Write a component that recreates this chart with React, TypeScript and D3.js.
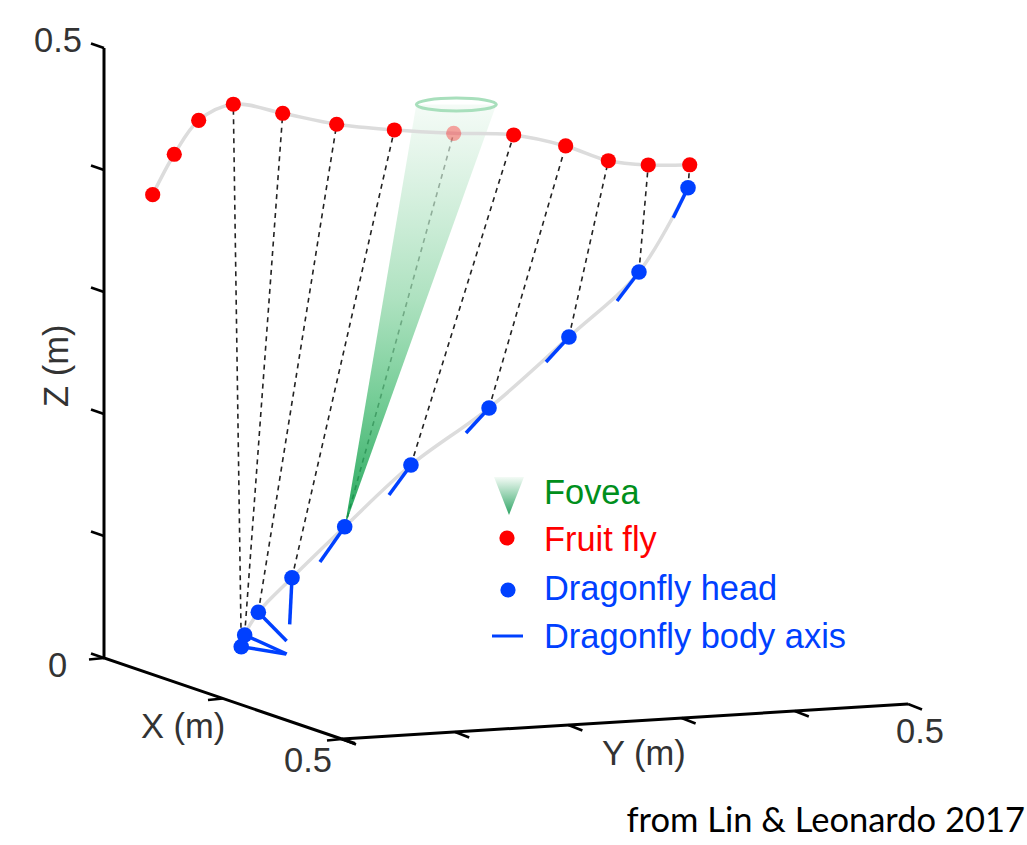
import React from "react";
import * as d3 from "d3";

// trajectories, in metres as projected on the plot plane (across, up)
const flyAcross = [0.0399, 0.0576, 0.0776, 0.106, 0.1465, 0.1907, 0.238, 0.2866, 0.3358, 0.3784, 0.4134, 0.4461, 0.4801];
const flyUp = [0.3798, 0.4129, 0.4407, 0.4539, 0.4465, 0.4375, 0.4328, 0.4301, 0.4287, 0.4197, 0.4076, 0.4041, 0.4043];
const headAcross = [0.1125, 0.1153, 0.1265, 0.1541, 0.1973, 0.2516, 0.3156, 0.3811, 0.4385, 0.4787];
const headUp = [0.0093, 0.0189, 0.0375, 0.0658, 0.1076, 0.1582, 0.2049, 0.2631, 0.3164, 0.3855];
const tailAcross = [0.1492, 0.1498, 0.1497, 0.1522, 0.177, 0.2336, 0.2967, 0.3623, 0.4205, 0.4666];
const tailUp = [0.0033, 0.0033, 0.0139, 0.0276, 0.0787, 0.1336, 0.1844, 0.2426, 0.2926, 0.3609];

// the first 3 fly samples have no sight line
const flyOffset = 3;
const foveaHead = 4;
const foveaFly = 7;
const foveaRim = { across: 0.2888, up: 0.4537, rx: 0.0328, ry: 0.0053 };

const xTicks = [0, 0.25, 0.5];
const yTicks = [0, 0.1, 0.2, 0.3, 0.4, 0.5];
const zTicks = [0, 0.1, 0.2, 0.3, 0.4, 0.5];

const legendLabels = ["Fovea", "Fruit fly", "Dragonfly head", "Dragonfly body axis"];

const WIDTH = 1027;
const HEIGHT = 845;
const RED = "#ff0000";
const BLUE = "#0040ff";
const GREEN = "#008f1c";
const TRACK = "#dcdcdc";
const LABEL = "#333";
const FONT = "'Liberation Sans', Arial, sans-serif";

// each box edge is a line on the screen: one scale per screen coordinate
const edge = (from: [number, number], to: [number, number]) => {
  const sx = d3.scaleLinear().domain([0, 0.5]).range([from[0], to[0]]);
  const sy = d3.scaleLinear().domain([0, 0.5]).range([from[1], to[1]]);
  return (t: number): [number, number] => [sx(t), sy(t)];
};
const xEdge = edge([104, 658], [342, 739]);
const yEdge = edge([342, 739], [908, 704]);
const zEdge = edge([104, 658], [104, 48]);

const across = d3.scaleLinear().domain([0, 0.5]).range([104, 714]);
const up = d3.scaleLinear().domain([0, 0.5]).range([658, 48]);

const toPoints = (us: number[], vs: number[]): [number, number][] =>
  us.map((u, i) => [across(u), up(vs[i])]);

const flyPts = toPoints(flyAcross, flyUp);
const headPts = toPoints(headAcross, headUp);
const tailPts = toPoints(tailAcross, tailUp);

const track = d3.line().curve(d3.curveCatmullRom.alpha(0.5));

const conePts: [number, number][] = [
  headPts[foveaHead],
  [across(foveaRim.across - foveaRim.rx), up(foveaRim.up)],
  [across(foveaRim.across + foveaRim.rx), up(foveaRim.up)],
];

const tick = (p: number[], dx: number, dy: number, key: string | number) => (
  <line key={key} x1={p[0]} y1={p[1]} x2={p[0] + dx} y2={p[1] + dy} stroke="#000" strokeWidth={2.6} />
);

export default function App() {
  const x0 = xEdge(0), x1 = xEdge(0.5), y0 = yEdge(0), y1 = yEdge(0.5), z1 = zEdge(0.5);

  return (
    <svg
      width={WIDTH}
      height={HEIGHT}
      style={{ position: "absolute", left: 0, top: 0, background: "#fff" }}
      fontFamily={FONT}
    >
      <defs>
        <linearGradient id="cone" gradientUnits="userSpaceOnUse" x1={0} y1={up(foveaRim.up)} x2={0} y2={headPts[foveaHead][1]}>
          <stop offset="0" stopColor="#eff9f2" stopOpacity={0.65} />
          <stop offset="0.46" stopColor="#93d8ab" stopOpacity={0.75} />
          <stop offset="0.7" stopColor="#52c07c" stopOpacity={0.8} />
          <stop offset="1" stopColor="#0a9c48" stopOpacity={0.9} />
        </linearGradient>
        <linearGradient id="coneKey" x1={0} y1={0} x2={0} y2={1}>
          <stop offset="0" stopColor="#f4fbf6" />
          <stop offset="1" stopColor="#2fa565" />
        </linearGradient>
      </defs>

      {/* axes */}
      <g fill="none">
        <path d={`M${z1[0]},${z1[1]}L${x0[0]},${x0[1]}L${x1[0] + 13},${x1[1] + 4.5}`} stroke="#000" strokeWidth={3} />
        <path d={`M${y0[0]},${y0[1]}L${y1[0]},${y1[1]}`} stroke="#000" strokeWidth={3} />
        {zTicks.map((t) => tick(zEdge(t), -13, -4.5, `z${t}`))}
        {xTicks.map((t) => tick(xEdge(t), -15, 1.5, `x${t}`))}
        {yTicks.map((t) => tick(yEdge(t), 14, 5.5, `y${t}`))}
      </g>

      <g fontSize={34.5} fill={LABEL}>
        <text x={34} y={52}>0.5</text>
        <text x={48} y={677}>0</text>
        <text x={284} y={772}>0.5</text>
        <text x={896} y={743}>0.5</text>
        <text x={141} y={738}>X (m)</text>
        <text x={602} y={765}>Y (m)</text>
        <text transform="translate(68,407) rotate(-90)">Z (m)</text>
      </g>

      {/* sight lines */}
      <g stroke="#222" strokeWidth={1.6} strokeDasharray="5 4.5">
        {headPts.map((h, i) => {
          const f = flyPts[i + flyOffset];
          return <line key={i} x1={h[0]} y1={h[1]} x2={f[0]} y2={f[1]} />;
        })}
      </g>

      {/* fovea cone */}
      <path d={`M${conePts.join("L")}Z`} fill="url(#cone)" />
      <ellipse
        cx={across(foveaRim.across)}
        cy={up(foveaRim.up)}
        rx={across(foveaRim.rx) - across(0)}
        ry={up(0) - up(foveaRim.ry)}
        fill="none"
        stroke="#a8dfbc"
        strokeWidth={3}
      />

      {/* trajectories */}
      <path d={track(flyPts) ?? ""} fill="none" stroke={TRACK} strokeWidth={3.5} />
      <path d={track(headPts) ?? ""} fill="none" stroke={TRACK} strokeWidth={3.5} />

      {headPts.map((h, i) => (
        <line key={i} x1={h[0]} y1={h[1]} x2={tailPts[i][0]} y2={tailPts[i][1]} stroke={BLUE} strokeWidth={3.5} />
      ))}
      {flyPts.map((p, i) => (
        <circle key={i} cx={p[0]} cy={p[1]} r={7.6} fill={RED} opacity={i === foveaFly ? 0.35 : 1} />
      ))}
      {headPts.map((p, i) => (
        <circle key={i} cx={p[0]} cy={p[1]} r={7.8} fill={BLUE} />
      ))}

      {/* legend */}
      <path d="M494,477L524,477L509,515Z" fill="url(#coneKey)" />
      <circle cx={507} cy={538} r={7.6} fill={RED} />
      <circle cx={508} cy={590} r={7.6} fill={BLUE} />
      <line x1={492} y1={636} x2={523} y2={636} stroke={BLUE} strokeWidth={3} />
      <g fontSize={34.4}>
        <text x={544} y={504} fill={GREEN}>{legendLabels[0]}</text>
        <text x={544} y={551} fill={RED}>{legendLabels[1]}</text>
        <text x={544} y={600} fill={BLUE}>{legendLabels[2]}</text>
        <text x={544} y={648} fill={BLUE}>{legendLabels[3]}</text>
      </g>

      <text x={1025} y={832} textAnchor="end" fontFamily="Lato, sans-serif" fontSize={34.5} fill="#000">
        from Lin &amp; Leonardo 2017
      </text>
    </svg>
  );
}
